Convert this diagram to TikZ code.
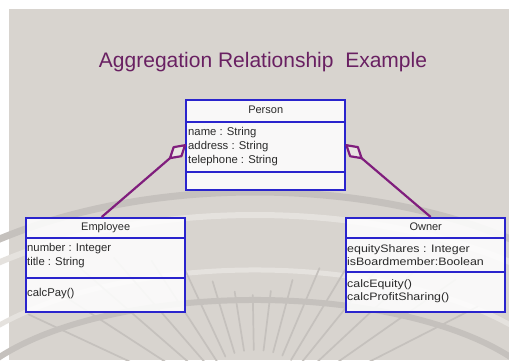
\documentclass[tikz,border=0pt]{standalone}
\usepackage{fontspec}
\setmainfont{Liberation Sans}
\usetikzlibrary{calc}

\definecolor{pagebg}{RGB}{216,212,207}
\definecolor{markdark}{RGB}{197,193,189}
\definecolor{marklight}{RGB}{229,226,222}
\definecolor{umlblue}{RGB}{42,36,205}
\definecolor{aggline}{RGB}{128,30,125}
\definecolor{titlecol}{RGB}{105,32,98}
\definecolor{txt}{RGB}{42,42,42}
\definecolor{diamondfill}{RGB}{232,229,226}

\begin{document}
\begin{tikzpicture}[x=1pt,y=-1pt,
  classbox/.style={draw=umlblue, line width=2.4pt, fill=white, fill opacity=0.86,
    draw opacity=1, text opacity=1, inner sep=0pt, anchor=north west, minimum width=159pt},
  sepline/.style={draw=umlblue, line width=2pt},
  hdr/.style={font=\fontsize{11}{13}\selectfont, text=txt, inner sep=0pt, text height=8pt, text depth=2.5pt},
  member/.style={font=\fontsize{11.3}{13}\selectfont, text=txt, inner sep=0pt, anchor=west, text height=8pt, text depth=2.5pt},
  widemember/.style={member, font=\fontsize{10.8}{13}\addfontfeature{FakeStretch=1.15}\selectfont},
  agg/.style={draw=aggline, line width=2.2pt, line join=round},
  aggdiamond/.style={agg, fill=diamondfill},
  ray/.style={draw=markdark, line width=1.7pt, line cap=round},
]
\useasboundingbox (0,0) rectangle (509,360);

% page and background panel
\fill[white] (0,0) rectangle (509,360);
\fill[pagebg] (9,9) rectangle (509,360);

% faint seal in the background: arcs and a sunburst
\coordinate (seal) at (255,420);
\draw[markdark, line width=7pt] (seal) ++(180:420 and 228) arc[start angle=180, end angle=360, x radius=420, y radius=228];
\draw[marklight, line width=6pt] (seal) ++(180:400 and 205) arc[start angle=180, end angle=360, x radius=400, y radius=205];
\draw[marklight, line width=5pt] (seal) ++(195:330 and 150) arc[start angle=195, end angle=345, x radius=330, y radius=150];
\draw[markdark, line width=6pt] (seal) ++(200:300 and 120) arc[start angle=200, end angle=340, x radius=300, y radius=120];
\foreach \a/\r in {205/250, 213/245, 221/235, 229/215, 237/190, 245/165, 253/145, 261/130,
                   269/125, 277/130, 285/145, 293/165, 301/190, 309/215, 317/235, 325/245, 333/250}
  \draw[ray] (seal) ++(\a:70) -- ++(\a:\r-70);

% title
\node[font=\fontsize{21}{25}\selectfont, text=titlecol] (title) at (263,62)
  {Aggregation\ Relationship\ \ Example};

% class Person
\node[classbox, minimum height=90pt] (person) at (185,99) {};
\draw[sepline] ([yshift=-23pt]person.north west) -- ([yshift=-23pt]person.north east);
\draw[sepline] ([yshift=-73pt]person.north west) -- ([yshift=-73pt]person.north east);
\node[hdr] (personname) at ([yshift=-11.5pt]person.north) {Person};
\node[member] (pattr1) at (188,133) {name : String};
\node[member] (pattr2) at (188,147) {address : String};
\node[member] (pattr3) at (188,161) {telephone : String};

% class Employee
\node[classbox, minimum height=94pt] (employee) at (25,217) {};
\draw[sepline] ([yshift=-21pt]employee.north west) -- ([yshift=-21pt]employee.north east);
\draw[sepline] ([yshift=-61pt]employee.north west) -- ([yshift=-61pt]employee.north east);
\node[hdr] (employeename) at ([yshift=-10.5pt]employee.north) {Employee};
\node[member] (eattr1) at (27,249) {number : Integer};
\node[member] (eattr2) at (27,263) {title : String};
\node[member] (eop1) at (27,294) {calcPay()};

% class Owner
\node[classbox, minimum height=94pt] (owner) at (345,217) {};
\draw[sepline] ([yshift=-21pt]owner.north west) -- ([yshift=-21pt]owner.north east);
\draw[sepline] ([yshift=-55pt]owner.north west) -- ([yshift=-55pt]owner.north east);
\node[hdr] (ownername) at ([yshift=-10.5pt]owner.north) {Owner};
\node[widemember] (oattr1) at (347,250) {equityShares : Integer};
\node[widemember] (oattr2) at (347,263) {isBoardmember:Boolean};
\node[widemember] (oop1) at (347,285) {calcEquity()};
\node[widemember] (oop2) at (347,298) {calcProfitSharing()};

% aggregation links, hollow diamond on the whole (Person)
\coordinate (empend) at ([xshift=-4pt]employee.north);
\coordinate (ownend) at ([xshift=5pt]owner.north);
\draw[agg] (person.west) -- (empend);
\draw[agg] (person.east) -- (ownend);
% diamond: about 20pt long, 12pt wide, laid along each link
\coordinate (dmL) at ($(person.west)!0.09!(empend)$);
\coordinate (dmR) at ($(person.east)!0.09!(ownend)$);
\draw[aggdiamond] (person.west)
  -- ($(dmL)!0.6!90:(person.west)$)
  -- ($(person.west)!0.18!(empend)$)
  -- ($(dmL)!0.6!-90:(person.west)$) -- cycle;
\draw[aggdiamond] (person.east)
  -- ($(dmR)!0.6!90:(person.east)$)
  -- ($(person.east)!0.18!(ownend)$)
  -- ($(dmR)!0.6!-90:(person.east)$) -- cycle;
\end{tikzpicture}
\end{document}
